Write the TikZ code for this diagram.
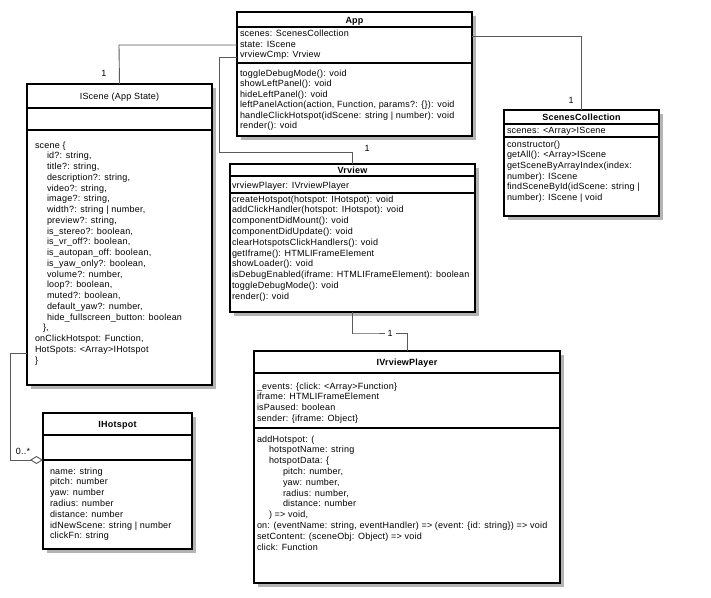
\documentclass[tikz,border=0pt]{standalone}
\usepackage{fontspec}
\setmainfont{Liberation Sans}[LetterSpace=2.5]
\usetikzlibrary{arrows.meta}
\definecolor{shadowc}{HTML}{B4B4B4}
\definecolor{connc}{HTML}{5A5A5A}
\newcommand\uml{\fontsize{9}{10}\selectfont}
\newcommand\ia{\hspace*{10pt}}
\newcommand\ib{\hspace*{12pt}}
\newcommand\ic{\hspace*{26pt}}
\newcommand\umlbox[5]{%
  \fill[shadowc] (#2+4,#3+4) rectangle (#2+#4+4,#3+#5+4);
  \node[umlbox, minimum width=#4pt, minimum height=#5pt] (#1) at (#2,#3) {};}
\newcommand\umllines[5]{%
  \foreach \t [count=\i from 0] in {#5} {\node[ln] (#1\i) at (#2,#3+\i*#4) {\t};}}
\newcommand\umldiv[2]{\draw[divider] (#1.west |- 0,#2) -- (#1.east |- 0,#2);}
\begin{document}
\begin{tikzpicture}[x=1pt,y=-1pt,
  every node/.style={font=\uml, inner sep=0pt, outer sep=0pt},
  umlbox/.style={draw=black, line width=1.3pt, fill=white, anchor=north west},
  divider/.style={line width=1.3pt},
  conn/.style={draw=connc, line width=0.9pt},
  ln/.style={anchor=base west},
  ttl/.style={anchor=base, font=\uml\bfseries},
  ttlr/.style={anchor=base, font=\uml},
  mult/.style={anchor=base, font=\uml}]
\useasboundingbox (0,0) rectangle (711,597);
\fill[white] (0,0) rectangle (711,597);

% ---------------- connector corners ----------------
\coordinate (c1) at (119,45);
\coordinate (c2a) at (219,57);
\coordinate (c2b) at (219,152);
\coordinate (c3) at (582,36);
\coordinate (c4a) at (352,333);
\coordinate (c5a) at (10,353);
\coordinate (c5b) at (10,460);

% ---------------- boxes ----------------
\umlbox{app}{237}{12}{235}{124}
\umlbox{iscene}{27}{84}{185}{301}
\umlbox{scol}{504}{110}{155}{106}
\umlbox{vrview}{230}{164}{245}{148}
\umlbox{player}{254}{351}{306}{232}
\umlbox{hotspot}{43}{413}{149}{136}

% App
\node[ttl] (appT) at (354.5,23) {App};
\umldiv{app}{27}
\umldiv{app}{63}
\umllines{appA}{240}{36.5}{10.7}{{scenes: ScenesCollection},{state: IScene},{vrviewCmp: Vrview}}
\umllines{appM}{240}{76}{10.5}{{toggleDebugMode(): void},{showLeftPanel(): void},{hideLeftPanel(): void},{leftPanelAction(action, Function, params?: \{\}): void},{handleClickHotspot(idScene: string | number): void},{render(): void}}

% IScene
\node[ttlr] (isceneT) at (119.5,99.5) {IScene (App State)};
\umldiv{iscene}{108}
\umldiv{iscene}{130}
\umllines{isceneA}{35}{148}{10.75}{{scene \{},{\ib id?: string,},{\ib title?: string,},{\ib description?: string,},{\ib video?: string,},{\ib image?: string,},{\ib width?: string | number,},{\ib preview?: string,},{\ib is\_stereo?: boolean,},{\ib is\_vr\_off?: boolean,},{\ib is\_autopan\_off: boolean,},{\ib is\_yaw\_only?: boolean,},{\ib volume?: number,},{\ib loop?: boolean,},{\ib muted?: boolean,},{\ib default\_yaw?: number,},{\ib hide\_fullscreen\_button: boolean},{\hspace*{8pt}\},},{onClickHotspot: Function,},{HotSpots: <Array>IHotspot},{\}}}

% ScenesCollection
\node[ttl] (scolT) at (581.5,120.5) {ScenesCollection};
\umldiv{scol}{124}
\umldiv{scol}{137}
\umllines{scolA}{507}{133.5}{10.7}{{scenes: <Array>IScene}}
\umllines{scolM}{507}{147}{10.7}{{constructor()},{getAll(): <Array>IScene},{getSceneByArrayIndex(index:},{number): IScene},{findSceneById(idScene: string |},{number): IScene | void}}

% Vrview
\node[ttl] (vrviewT) at (352.5,173.5) {Vrview};
\umldiv{vrview}{176}
\umldiv{vrview}{193}
\umllines{vrviewA}{232}{188}{10.7}{{vrviewPlayer: IVrviewPlayer}}
\umllines{vrviewM}{232}{202}{10.8}{{createHotspot(hotspot: IHotspot): void},{addClickHandler(hotspot: IHotspot): void},{componentDidMount(): void},{componentDidUpdate(): void},{clearHotspotsClickHandlers(): void},{getIframe(): HTMLIFrameElement},{showLoader(): void},{isDebugEnabled(iframe: HTMLIFrameElement): boolean},{toggleDebugMode(): void},{render(): void}}

% IVrviewPlayer
\node[ttl] (playerT) at (407,365.5) {IVrviewPlayer};
\umldiv{player}{373}
\umldiv{player}{428}
\umllines{playerA}{257}{389}{10.7}{{\_events: \{click: <Array>Function\}},{iframe: HTMLIFrameElement},{isPaused: boolean},{sender: \{iframe: Object\}}}
\umllines{playerM}{257}{442}{10.8}{{addHotspot: (},{\ib hotspotName: string},{\ib hotspotData: \{},{\ic pitch: number,},{\ic yaw: number,},{\ic radius: number,},{\ic distance: number},{\ib ) => void,},{on: (eventName: string, eventHandler) => (event: \{id: string\}) => void},{setContent: (sceneObj: Object) => void},{click: Function}}

% IHotspot
\node[ttl] (hotspotT) at (117.5,427.5) {IHotspot};
\umldiv{hotspot}{435}
\umldiv{hotspot}{460}
\umllines{hotspotA}{50}{474}{10.8}{{name: string},{pitch: number},{yaw: number},{radius: number},{distance: number},{idNewScene: string | number},{clickFn: string}}

% ---------------- connectors ----------------
\draw[conn] (app.west |- c1) -- (c1) -- (iscene.north);
\node[mult] (m1) at (104,76) {1};
\draw[conn] (app.west |- c2a) -- (c2a) -- (c2b) -| (vrview.north);
\node[mult] (m2) at (367,151) {1};
\draw[conn] (app.east |- c3) -| (scol.north);
\node[mult] (m3) at (571,103) {1};
\draw[conn] (vrview.south) |- (c4a) -| (player.north);
\node[mult, fill=white, inner xsep=3pt, inner ysep=1pt] (m4) at (390,336) {1};
\draw[conn, -{Diamond[open, length=13pt, width=8pt, line width=0.9pt]}] (iscene.west |- c5a) -- (c5a) -- (c5b) -- (hotspot.west |- c5b);
\node[mult] (m5) at (23,454) {0..*};
\end{tikzpicture}
\end{document}
